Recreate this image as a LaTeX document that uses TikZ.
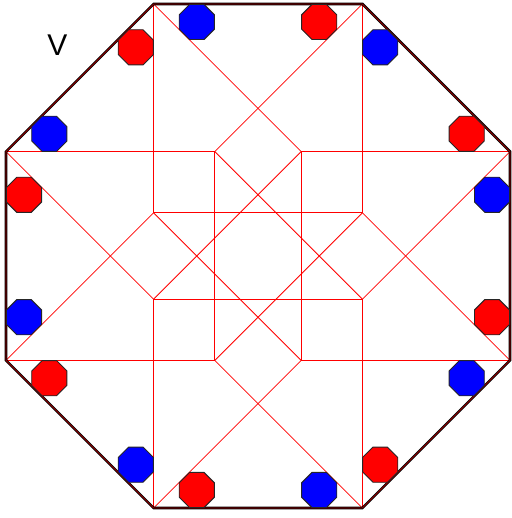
\documentclass[tikz,border=0pt]{standalone}
\usepackage{fontspec}
\setmainfont{Liberation Sans}
\usepackage{tikz}
\usetikzlibrary{shapes.geometric}
\usepackage{xcolor}

\begin{document}
\begin{tikzpicture}[
  x=1pt, y=1pt,
  rim/.style={draw=black, line width=2.6pt, line join=miter},
  rimline/.style={draw=red!70!black, line width=0.8pt, line join=miter},
  web/.style={draw=red, line width=0.8pt},
  oct/.style={regular polygon, regular polygon sides=8, minimum size=38pt,
              inner sep=0pt, draw=black!85, line width=0.9pt},
  redoct/.style={oct, fill=red},
  blueoct/.style={oct, fill=blue}
]
  \useasboundingbox (-258,-262) rectangle (253,256);
  % outer octagon corners
  \coordinate (p1) at (-104.4,252);
  \coordinate (p2) at (104.4,252);
  \coordinate (p3) at (252,104.4);
  \coordinate (p4) at (252,-104.4);
  \coordinate (p5) at (104.4,-252);
  \coordinate (p6) at (-104.4,-252);
  \coordinate (p7) at (-252,-104.4);
  \coordinate (p8) at (-252,104.4);
  % inner corners
  \coordinate (rt) at (104.4,43.2);
  \coordinate (rb) at (104.4,-43.2);
  \coordinate (lt) at (-104.4,43.2);
  \coordinate (lb) at (-104.4,-43.2);
  \coordinate (tr) at (43.2,104.4);
  \coordinate (tl) at (-43.2,104.4);
  \coordinate (br) at (43.2,-104.4);
  \coordinate (bl) at (-43.2,-104.4);
  % star tips
  \coordinate (tap) at (0,147.6);
  \coordinate (bap) at (0,-147.6);
  \coordinate (lap) at (-147.6,0);
  \coordinate (rap) at (147.6,0);

  \draw[web] (p1) -- (lt) -- (rt) -- (p2);
  \draw[web] (p6) -- (lb) -- (rb) -- (p5);
  \draw[web] (p8) -- (tl) -- (bl) -- (p7);
  \draw[web] (p3) -- (tr) -- (br) -- (p4);
  \draw[web] (p1) -- (tap) -- (tr);
  \draw[web] (rt) -- (rap) -- (p4);
  \draw[web] (p2) -- (tap) -- (tl);
  \draw[web] (lt) -- (lap) -- (p7);
  \draw[web] (p3) -- (rap) -- (rb);
  \draw[web] (br) -- (bap) -- (p6);
  \draw[web] (p8) -- (lap) -- (lb);
  \draw[web] (bl) -- (bap) -- (p5);
  \draw[web] (tl) -- (rb);
  \draw[web] (tr) -- (lb);
  \draw[web] (lt) -- (br);
  \draw[web] (rt) -- (bl);

  \draw[rim] (p1) -- (p2) -- (p3) -- (p4) -- (p5) -- (p6) -- (p7) -- (p8) -- cycle;
  \draw[rimline] (p1) -- (p2) -- (p3) -- (p4) -- (p5) -- (p6) -- (p7) -- (p8) -- cycle;

  \node[blueoct] (b1) at (-61.2,234) {};
  \node[redoct]  (r1) at (61.2,234) {};
  \node[blueoct] (b2) at (122.2,208.7) {};
  \node[redoct]  (r2) at (208.7,122.2) {};
  \node[blueoct] (b3) at (234,61.2) {};
  \node[redoct]  (r3) at (234,-61.2) {};
  \node[blueoct] (b4) at (208.7,-122.2) {};
  \node[redoct]  (r4) at (122.2,-208.7) {};
  \node[blueoct] (b5) at (61.2,-234) {};
  \node[redoct]  (r5) at (-61.2,-234) {};
  \node[blueoct] (b6) at (-122.2,-208.7) {};
  \node[redoct]  (r6) at (-208.7,-122.2) {};
  \node[blueoct] (b7) at (-234,-61.2) {};
  \node[redoct]  (r7) at (-234,61.2) {};
  \node[blueoct] (b8) at (-208.7,122.2) {};
  \node[redoct]  (r8) at (-122.2,208.7) {};

  \node[font=\fontsize{30}{36}\selectfont, inner sep=0pt] (vlabel) at (-200.5,210.5) {V};
\end{tikzpicture}
\end{document}
